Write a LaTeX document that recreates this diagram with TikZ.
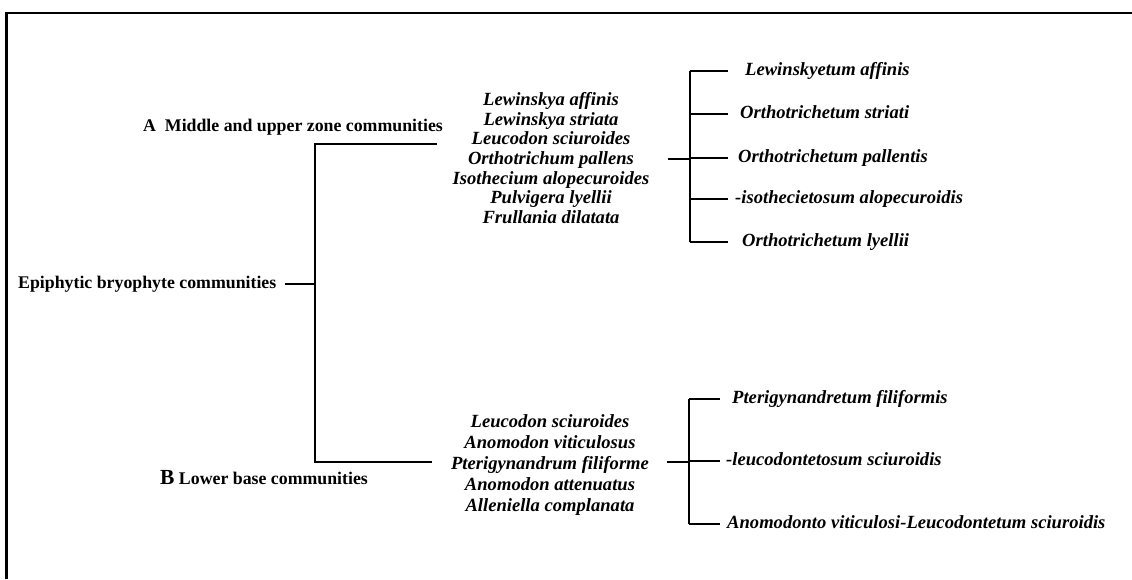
\documentclass[tikz,border=0pt]{standalone}
\usepackage{fontspec}
\setmainfont{Liberation Serif}
\begin{document}
\begin{tikzpicture}[x=1pt,y=-1pt,
  head/.style={inner sep=0pt, anchor=base west, font=\fontsize{17.8}{20}\selectfont\bfseries},
  sp/.style={inner sep=0pt, anchor=west, text height=12pt, text depth=4pt, font=\fontsize{18.6}{20}\selectfont\bfseries\itshape},
  lst/.style={inner sep=0pt, align=center, font=\fontsize{18.6}{#1}\selectfont\bfseries\itshape},
  ln/.style={line width=2pt},
  frame/.style={line width=2.8pt}]
\useasboundingbox (0,0) rectangle (1132,579);
% frame
\draw[frame] (6.5,579) -- (6.5,13) -- (1132,13);
% root
\node[head] (root) at (18,288) {Epiphytic bryophyte communities};
\node[head] (hA) at (143,131) {A\ \ Middle and upper zone communities};
\node[head] (hB) at (160,484) {{\fontsize{21.5}{22}\selectfont B} Lower base communities};
% species lists
\node[lst=19.7] (listA) at (551,158) {Lewinskya affinis\\Lewinskya striata\\Leucodon sciuroides\\Orthotrichum pallens\\Isothecium alopecuroides\\Pulvigera lyellii\\Frullania dilatata};
\node[lst=21] (listB) at (550,465) {Leucodon sciuroides\\Anomodon viticulosus\\Pterigynandrum filiforme\\Anomodon attenuatus\\Alleniella complanata};
% main bracket
\coordinate (tR) at (315,284);
\coordinate (tA) at (315,144);
\coordinate (tB) at (315,462);
\coordinate (eA) at (437,144);
\coordinate (eB) at (432,462);
\draw[ln] ([xshift=8pt]root.base east |- tR) -- (tR);
\draw[ln] (eA) -- (tA) -- (tB) -- (eB);
% A communities
\node[sp] (a1) at (745,71) {Lewinskyetum affinis};
\node[sp] (a2) at (740,114) {Orthotrichetum striati};
\node[sp] (a3) at (738,158) {Orthotrichetum pallentis};
\node[sp] (a4) at (735,199) {-isothecietosum alopecuroidis};
\node[sp] (a5) at (742,242) {Orthotrichetum lyellii};
\coordinate (vA) at (690,159);
\draw[ln] ([xshift=18pt]listA.east |- vA) -- (vA);
\draw[ln] (vA |- a1) -- (vA |- a5);
\foreach \n in {a1,a2,a3,a4,a5} \draw[ln] (vA |- \n) -- ++(38,0);
% B communities
\node[sp] (b1) at (732,399) {Pterigynandretum filiformis};
\node[sp] (b2) at (726,461) {-leucodontetosum sciuroidis};
\node[sp] (b3) at (727,524) {Anomodonto viticulosi-Leucodontetum sciuroidis};
\coordinate (vB) at (689,462);
\draw[ln] ([xshift=18pt]listB.east |- vB) -- (vB);
\draw[ln] (vB |- b1) -- (vB |- b3);
\foreach \n in {b1,b2,b3} \draw[ln] (vB |- \n) -- ++(31,0);
\end{tikzpicture}
\end{document}
